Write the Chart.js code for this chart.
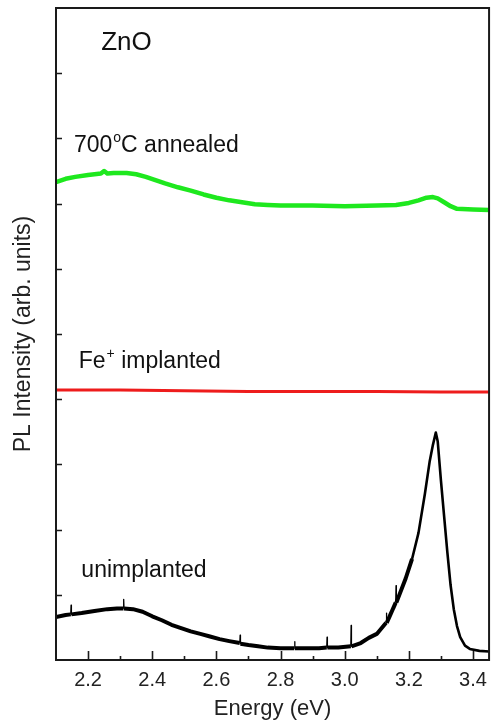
<!DOCTYPE html>
<html>
<head>
<meta charset="utf-8">
<title>ZnO PL spectra</title>
<script src="https://cdn.jsdelivr.net/npm/chart.js@4/dist/chart.umd.min.js"></script>
<style>
  html, body { margin: 0; padding: 0; background: #fff; }
  #wrap { width: 495px; height: 726px; }
</style>
</head>
<body>
<div id="wrap"><canvas id="pl" width="495" height="726"></canvas></div>
<script>
// Photon energy (eV) and PL intensity (arb. units, stacked offsets) per sample
const unimplantedEnergy = [
  2.100, 2.130, 2.146, 2.147, 2.148, 2.180, 2.220, 2.260, 2.290, 2.310, 2.311, 2.312,
  2.340, 2.370, 2.400, 2.430, 2.460, 2.490, 2.520, 2.550, 2.580, 2.610, 2.640, 2.673,
  2.674, 2.675, 2.700, 2.730, 2.760, 2.800, 2.843, 2.844, 2.845, 2.880, 2.920, 2.944,
  2.945, 2.946, 2.980, 3.019, 3.020, 3.021, 3.050, 3.075, 3.100, 3.129, 3.130, 3.131,
  3.159, 3.160, 3.161, 3.190, 3.210, 3.230, 3.250, 3.265, 3.275, 3.284, 3.290, 3.300,
  3.310, 3.320, 3.330, 3.340, 3.350, 3.360, 3.375, 3.390, 3.420, 3.450
];
const unimplantedIntensity = [
  0.66, 0.69, 0.70, 0.84, 0.70, 0.72, 0.75, 0.78, 0.79, 0.79, 0.93, 0.79,
  0.78, 0.74, 0.67, 0.61, 0.54, 0.49, 0.44, 0.40, 0.36, 0.32, 0.29, 0.26,
  0.38, 0.25, 0.23, 0.21, 0.19, 0.18, 0.18, 0.28, 0.18, 0.18, 0.18, 0.19,
  0.35, 0.19, 0.19, 0.21, 0.53, 0.21, 0.26, 0.34, 0.40, 0.57, 0.72, 0.57,
  0.88, 1.14, 0.88, 1.25, 1.55, 1.95, 2.55, 3.05, 3.30, 3.49, 3.35, 2.75,
  2.20, 1.65, 1.15, 0.78, 0.52, 0.35, 0.22, 0.17, 0.14, 0.13
];

const implantedEnergy = [2.10, 2.30, 2.50, 2.70, 2.90, 3.10, 3.30, 3.45];
const implantedIntensity = [4.14, 4.14, 4.13, 4.12, 4.12, 4.12, 4.11, 4.11];

const annealedEnergy = [
  2.10, 2.13, 2.16, 2.20, 2.24, 2.25, 2.26, 2.28, 2.32, 2.35, 2.38, 2.41, 2.44, 2.48,
  2.52, 2.56, 2.60, 2.64, 2.68, 2.72, 2.76, 2.80, 2.90, 3.00, 3.10, 3.16, 3.20, 3.23,
  3.255, 3.275, 3.29, 3.31, 3.33, 3.35, 3.40, 3.45
];
const annealedIntensity = [
  7.33, 7.38, 7.41, 7.44, 7.46, 7.50, 7.46, 7.47, 7.47, 7.45, 7.41, 7.36, 7.31, 7.25,
  7.20, 7.14, 7.09, 7.05, 7.02, 6.99, 6.98, 6.97, 6.97, 6.96, 6.97, 6.98, 7.01, 7.05,
  7.09, 7.10, 7.08, 7.02, 6.96, 6.92, 6.91, 6.90
];

// Axis ticks
const xMajorTicks = [2.2, 2.4, 2.6, 2.8, 3.0, 3.2, 3.4];
const xMinorTicks = [2.3, 2.5, 2.7, 2.9, 3.1, 3.3];
const yTicks = [1, 2, 3, 4, 5, 6, 7, 8, 9];

const toPoints = (xs, ys) => xs.map((e, i) => ({ x: e, y: ys[i] }));

const FONT = '"Liberation Sans", Arial, Helvetica, sans-serif';

// Curve labels, placed in data coordinates; "sup" parts are superscripts
const curveLabels = [
  { x: 2.241, y: 9.36, size: 26, parts: [{ t: 'ZnO' }] },
  { x: 2.156, y: 7.79, size: 23, parts: [{ t: '700' }, { t: 'o', sup: true }, { t: 'C annealed' }] },
  { x: 2.171, y: 4.48, size: 23, parts: [{ t: 'Fe' }, { t: '+', sup: true }, { t: ' implanted' }] },
  { x: 2.179, y: 1.27, size: 23, parts: [{ t: 'unimplanted' }] }
];

const curveLabelPlugin = {
  id: 'curveLabels',
  afterDatasetsDraw(chart) {
    const { ctx, scales: { x, y } } = chart;
    ctx.save();
    ctx.fillStyle = '#111';
    ctx.textBaseline = 'alphabetic';
    ctx.textAlign = 'left';
    curveLabels.forEach(lbl => {
      let px = x.getPixelForValue(lbl.x);
      const py = y.getPixelForValue(lbl.y);
      lbl.parts.forEach(p => {
        if (p.sup) {
          const s = Math.round(lbl.size * 0.6);
          ctx.font = s + 'px ' + FONT;
          ctx.fillText(p.t, px + 1, py - lbl.size * 0.42);
          px += ctx.measureText(p.t).width + 1;
        } else {
          ctx.font = lbl.size + 'px ' + FONT;
          ctx.fillText(p.t, px, py);
          px += ctx.measureText(p.t).width;
        }
      });
    });
    ctx.restore();
  }
};

// Closed frame with inward-pointing tick marks
const framePlugin = {
  id: 'frameTicks',
  afterDatasetsDraw(chart) {
    const { ctx, chartArea: a, scales: { x, y } } = chart;
    ctx.save();
    ctx.strokeStyle = '#1a1a1a';
    ctx.lineWidth = 2;
    ctx.strokeRect(a.left, a.top, a.right - a.left, a.bottom - a.top);
    ctx.lineWidth = 1.6;
    ctx.beginPath();
    xMajorTicks.forEach(v => {
      const px = Math.round(x.getPixelForValue(v)) + 0.5;
      ctx.moveTo(px, a.bottom); ctx.lineTo(px, a.bottom - 9);
    });
    xMinorTicks.forEach(v => {
      const px = Math.round(x.getPixelForValue(v)) + 0.5;
      ctx.moveTo(px, a.bottom); ctx.lineTo(px, a.bottom - 4);
    });
    yTicks.forEach(v => {
      const py = Math.round(y.getPixelForValue(v)) + 0.5;
      ctx.moveTo(a.left, py); ctx.lineTo(a.left + 6, py);
    });
    ctx.stroke();
    ctx.restore();
  }
};

// Noisy broad band drawn heavier; narrow spikes and the sharp UV peak drawn finer
const spikeOrBand = ctx => {
  const dx = Math.abs(ctx.p1.parsed.x - ctx.p0.parsed.x);
  if (dx < 0.003) return 1.3;
  return ctx.p0.parsed.x >= 3.2 ? 2.6 : 4;
};

new Chart(document.getElementById('pl'), {
  type: 'line',
  data: {
    datasets: [
      {
        label: '700°C annealed',
        data: toPoints(annealedEnergy, annealedIntensity),
        borderColor: '#1ee81e',
        borderWidth: 4.5
      },
      {
        label: 'Fe+ implanted',
        data: toPoints(implantedEnergy, implantedIntensity),
        borderColor: '#ee1c1c',
        borderWidth: 3
      },
      {
        label: 'unimplanted',
        data: toPoints(unimplantedEnergy, unimplantedIntensity),
        borderColor: '#000000',
        borderWidth: 3,
        borderCapStyle: 'butt',
        segment: { borderWidth: spikeOrBand }
      }
    ]
  },
  options: {
    responsive: false,
    animation: false,
    events: [],
    layout: { padding: { top: 8, right: 2, left: 0, bottom: 0 } },
    elements: {
      point: { radius: 0 },
      line: { tension: 0, borderJoinStyle: 'round', borderCapStyle: 'round' }
    },
    plugins: {
      legend: { display: false },
      tooltip: { enabled: false }
    },
    scales: {
      x: {
        type: 'linear',
        min: 2.1,
        max: 3.45,
        afterBuildTicks: s => { s.ticks = xMajorTicks.map(v => ({ value: v })); },
        afterFit: s => { s.height = 66; },
        grid: { display: false, drawTicks: false },
        border: { display: false },
        ticks: {
          padding: 8,
          color: '#222',
          font: { family: FONT, size: 20 },
          callback: v => Number(v).toFixed(1)
        },
        title: {
          display: true,
          text: 'Energy (eV)',
          color: '#222',
          font: { family: FONT, size: 22 },
          padding: { top: 4, bottom: 4 }
        }
      },
      y: {
        type: 'linear',
        min: 0,
        max: 10,
        afterFit: s => { s.width = 56; },
        grid: { display: false, drawTicks: false },
        border: { display: false },
        ticks: { display: false },
        title: {
          display: true,
          text: 'PL Intensity (arb. units)',
          color: '#222',
          font: { family: FONT, size: 23 },
          padding: { top: 10, bottom: 0 }
        }
      }
    }
  },
  plugins: [framePlugin, curveLabelPlugin]
});
</script>
</body>
</html>
